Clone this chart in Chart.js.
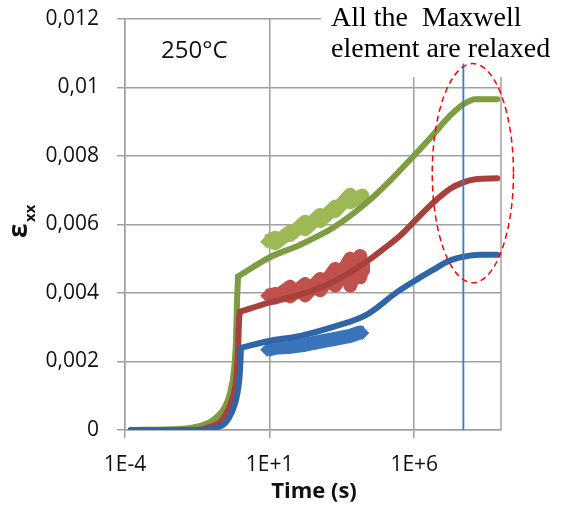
<!DOCTYPE html>
<html>
<head>
<meta charset="utf-8">
<script src="https://cdn.jsdelivr.net/npm/chart.js@4.4.1/dist/chart.umd.min.js"></script>
<style>
html, body { margin: 0; padding: 0; background: #fff; overflow: hidden; }
#wrap { width: 564px; height: 509px; }
</style>
</head>
<body>
<div id="wrap"><canvas id="chart" width="564" height="509"></canvas></div>
<script>
// axis ticks
const xTickValues = [1e-4, 1e1, 1e6];
const xTickLabels = ['1E-4', '1E+1', '1E+6'];
const yTickValues = [0, 0.002, 0.004, 0.006, 0.008, 0.01, 0.012];
const yTickLabels = ['0', '0,002', '0,004', '0,006', '0,008', '0,01', '0,012'];

// model curves [time (s), strain]: instantaneous rise, then creep
const riseBlue = [[1.6e-4, 0], [0.04, 0], [0.13, 0.00006], [0.29, 0.0002], [0.5, 0.00053], [0.75, 0.00102], [0.95, 0.00176], [1.02, 0.0024]];
const creepBlue = [[1.02, 0.0024], [9.5, 0.0026], [115, 0.00275], [1600, 0.00301], [23000, 0.00337], [2.4e5, 0.00401], [9.3e5, 0.00433], [4.6e6, 0.00468], [1.7e7, 0.00495], [5e7, 0.00506], [1.9e8, 0.00512], [7.4e8, 0.00512]];
const riseRed = [[1.6e-4, 0], [0.026, 0], [0.087, 0.00009], [0.19, 0.00023], [0.31, 0.00047], [0.5, 0.00088], [0.69, 0.00146], [0.81, 0.00234], [0.88, 0.00322], [0.95, 0.00345]];
const creepRed = [[0.95, 0.00345], [9.5, 0.00372], [115, 0.00395], [1600, 0.00433], [23000, 0.00492], [66000, 0.00521], [3.3e5, 0.00568], [9.3e5, 0.00606], [4.6e6, 0.00664], [1.8e7, 0.00705], [5e7, 0.00723], [1.3e8, 0.00732], [7.4e8, 0.00735]];
const riseGreen = [[1.6e-4, 0], [0.0079, 0.00003], [0.04, 0.00012], [0.087, 0.00023], [0.15, 0.00038], [0.27, 0.00064], [0.43, 0.00108], [0.59, 0.00176], [0.69, 0.00263], [0.75, 0.0038], [0.81, 0.00448]];
const creepGreen = [[0.81, 0.00448], [9.5, 0.00503], [115, 0.00541], [1600, 0.00591], [23000, 0.00664], [1.5e5, 0.00729], [9.3e5, 0.00799], [4.6e6, 0.00863], [1.4e7, 0.0091], [5e7, 0.00951], [1.3e8, 0.00966], [7.4e8, 0.00966]];

// measured data (upper / lower edge of the band)
const measBlue = [[8.2, 0.00234], [15.5, 0.0024], [51, 0.00243], [169, 0.00249], [559, 0.00258], [1845, 0.00266], [6100, 0.00275], [13500, 0.00285], [16000, 0.00283]];
const measRed = [[8.2, 0.00392], [15.5, 0.00397], [15.5, 0.00387], [51, 0.00418], [51, 0.0039], [169, 0.00426], [169, 0.00393], [559, 0.00441], [559, 0.00408],
  [1845, 0.0047], [1845, 0.00422], [6100, 0.005], [6100, 0.00422], [13500, 0.00508], [13500, 0.00446], [17000, 0.00479], [17000, 0.00466]];
const measGreen = [[8.2, 0.0055], [15.5, 0.00561], [15.5, 0.00545], [51, 0.00579], [51, 0.00569], [169, 0.00608], [169, 0.00586], [559, 0.00628], [559, 0.0061],
  [1845, 0.00652], [1845, 0.00639], [6100, 0.00687], [6100, 0.00665], [16000, 0.00684], [16000, 0.00674]];

// annotations
const relaxTime = 5e7;
const relaxLineY = [0, 0.0107];
const ellipseX = [4.2e6, 2.7e9];
const ellipseY = [0.0043, 0.0107];

const gridColor = '#a0a0a0';
const toPts = arr => arr.map(p => ({ x: p[0], y: p[1] }));

function modelSet(data, color) {
  return {
    data: toPts(data), borderColor: color, backgroundColor: color, borderWidth: 6,
    pointRadius: 0, showLine: true, cubicInterpolationMode: 'monotone', borderCapStyle: 'round', borderJoinStyle: 'round'
  };
}
function measSet(data, color, w) {
  return {
    data: toPts(data), borderColor: color, backgroundColor: color, borderWidth: w,
    pointRadius: 7, pointStyle: 'rectRot', pointBorderWidth: 0, showLine: true, borderJoinStyle: 'round'
  };
}

const overlay = {
  id: 'overlay',
  afterDraw(chart) {
    const ctx = chart.ctx;
    const xs = chart.scales.x, ys = chart.scales.y;
    const a = chart.chartArea;
    ctx.save();
    // plot border right side
    ctx.strokeStyle = gridColor;
    ctx.lineWidth = 1.5;
    ctx.beginPath();
    ctx.moveTo(a.right, a.top);
    ctx.lineTo(a.right, a.bottom);
    ctx.stroke();

    // text box
    ctx.fillStyle = '#fff';
    ctx.fillRect(321, 0, 243, 77);
    ctx.fillStyle = '#000';
    ctx.font = '28px "Liberation Serif"';
    ctx.textBaseline = 'alphabetic';
    ctx.textAlign = 'left';
    ctx.fillText('All the  Maxwell', 331, 26);
    ctx.fillText('element are relaxed', 331, 57);

    // relaxation line
    const rx = xs.getPixelForValue(relaxTime);
    ctx.strokeStyle = '#3e7cc2';
    ctx.lineWidth = 1.8;
    ctx.beginPath();
    ctx.moveTo(rx, ys.getPixelForValue(relaxLineY[1]));
    ctx.lineTo(rx, ys.getPixelForValue(relaxLineY[0]));
    ctx.stroke();

    // dashed ellipse
    const x0 = xs.getPixelForValue(ellipseX[0]), x1 = xs.getPixelForValue(ellipseX[1]);
    const y0 = ys.getPixelForValue(ellipseY[0]), y1 = ys.getPixelForValue(ellipseY[1]);
    ctx.strokeStyle = '#ff0000';
    ctx.lineWidth = 1.5;
    ctx.setLineDash([6, 4]);
    ctx.beginPath();
    ctx.ellipse((x0 + x1) / 2, (y0 + y1) / 2, Math.abs(x1 - x0) / 2, Math.abs(y1 - y0) / 2, 0, 0, Math.PI * 2);
    ctx.stroke();
    ctx.setLineDash([]);

    // temperature label
    ctx.fillStyle = '#111';
    ctx.font = '24px "Open Sans"';
    ctx.fillText('250°C', 161, 58);

    // x title
    ctx.font = 'bold 22px "Open Sans"';
    ctx.textAlign = 'center';
    ctx.fillText('Time (s)', 314, 498);

    // y title: epsilon with subscript xx
    ctx.translate(27, 238);
    ctx.rotate(-Math.PI / 2);
    ctx.textAlign = 'left';
    ctx.font = 'bold 26px "Open Sans"';
    ctx.fillText('ε', 0, 0);
    ctx.font = 'bold 15px "Open Sans"';
    ctx.fillText('xx', 16, 8);
    ctx.restore();
  }
};

new Chart(document.getElementById('chart'), {
  type: 'scatter',
  data: {
    datasets: [
      modelSet(riseBlue, '#3066a8'),
      modelSet(creepBlue, '#3066a8'),
      modelSet(riseRed, '#a8403b'),
      modelSet(creepRed, '#a8403b'),
      modelSet(riseGreen, '#7e9c40'),
      modelSet(creepGreen, '#7e9c40'),
      measSet(measBlue, '#3a74bb', 14),
      measSet(measRed, '#c1514d', 14),
      measSet(measGreen, '#9cb955', 14)
    ]
  },
  options: {
    responsive: false,
    animation: false,
    devicePixelRatio: 1,
    layout: { padding: { top: 19, right: 63, left: 0, bottom: 0 } },
    plugins: { legend: { display: false }, tooltip: { enabled: false } },
    scales: {
      x: {
        type: 'logarithmic',
        min: 1e-4,
        max: 1e9,
        afterBuildTicks: s => { s.ticks = xTickValues.map(v => ({ value: v })); },
        afterFit: s => { s.height = 79; s.paddingLeft = 0; s.paddingRight = 0; },
        ticks: {
          autoSkip: false, maxRotation: 0, padding: 14, color: '#111',
          font: { family: 'Open Sans', size: 21 },
          callback: (v, i) => xTickLabels[i]
        },
        grid: { color: gridColor, lineWidth: 1.5, tickLength: 8 },
        border: { color: gridColor, width: 1.5 }
      },
      y: {
        min: 0,
        max: 0.012,
        afterBuildTicks: s => { s.ticks = yTickValues.map(v => ({ value: v })); },
        afterFit: s => { s.width = 125; s.paddingTop = 0; s.paddingBottom = 0; },
        ticks: {
          autoSkip: false, padding: 18, color: '#111',
          font: { family: 'Open Sans', size: 21 },
          callback: (v, i) => yTickLabels[i]
        },
        grid: { color: gridColor, lineWidth: 1.5, tickLength: 8 },
        border: { color: gridColor, width: 1.5 }
      }
    }
  },
  plugins: [overlay]
});
</script>
</body>
</html>
